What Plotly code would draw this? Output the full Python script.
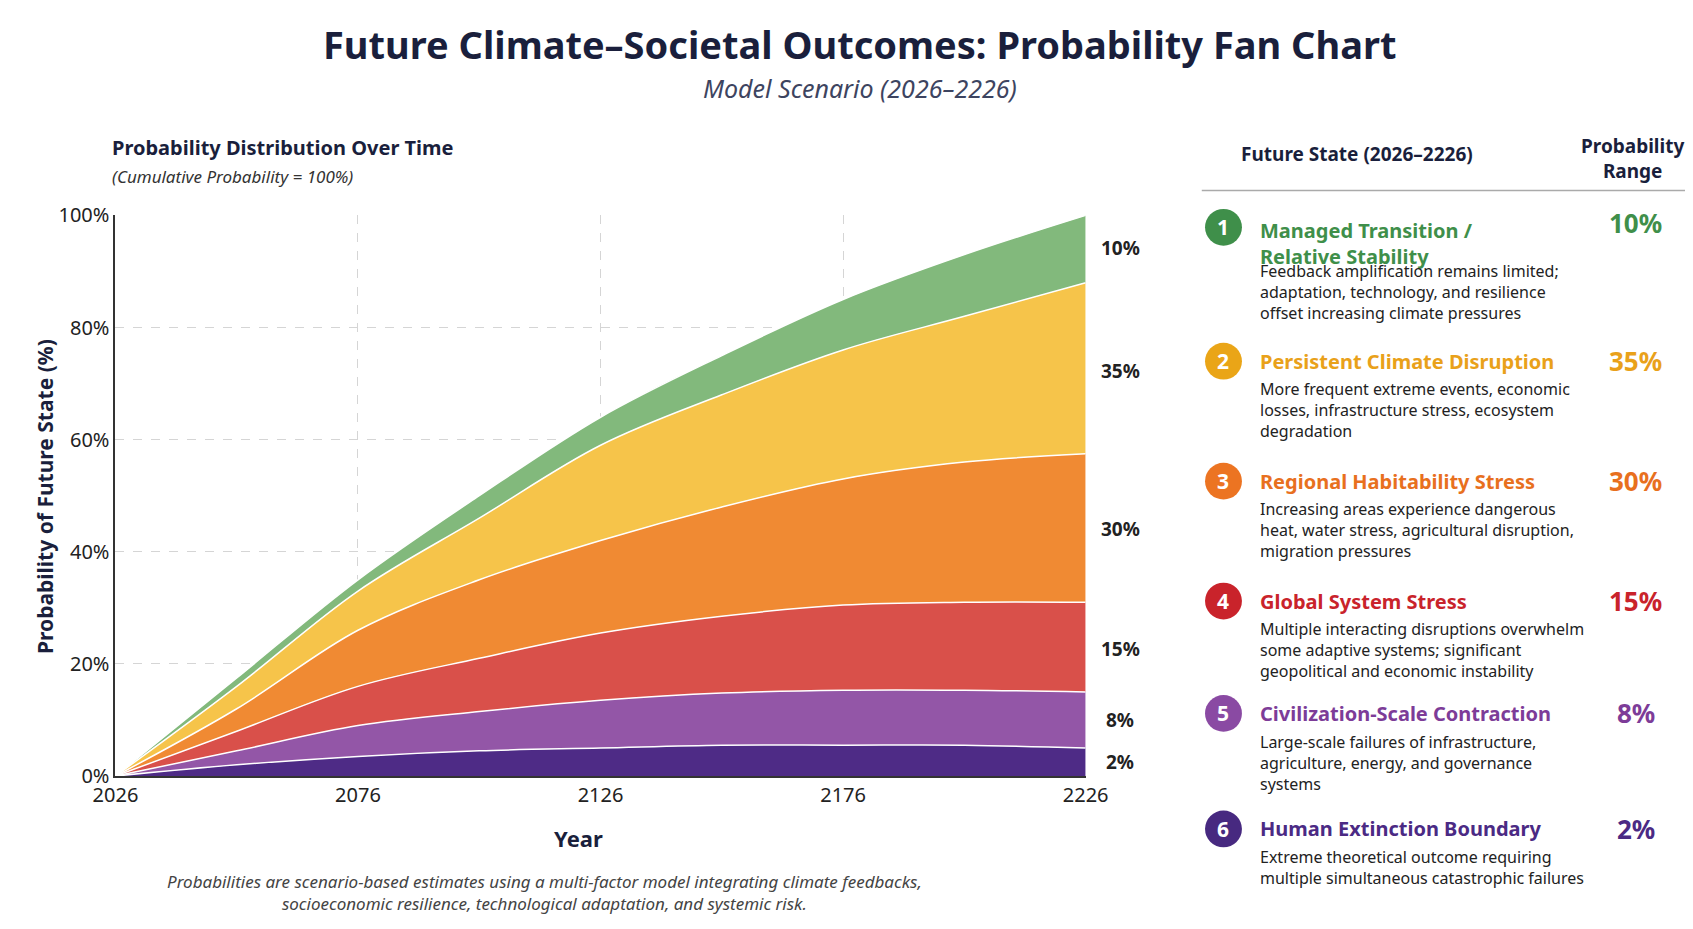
import plotly.graph_objects as go

# ---- data -------------------------------------------------------------
years = [2026, 2051, 2076, 2101, 2126, 2151, 2176, 2201, 2226]

# cumulative upper boundary (%) of each stacked state, bottom to top
extinction_top = [0, 2, 3.5, 4.5, 5, 5.5, 5.5, 5.5, 5]
contraction_top = [0, 4.5, 9, 11.5, 13.5, 14.8, 15.3, 15.3, 15]
global_top = [0, 8, 16, 21, 25.5, 28.5, 30.5, 31, 31]
regional_top = [0, 12, 26, 35, 42, 48, 53, 56, 57.5]
disruption_top = [0, 16, 33, 46, 59, 68, 76, 82, 88]
managed_top = [0, 17.5, 35, 50, 64, 75, 85, 93, 100]

state_names = ["Managed Transition /<br>Relative Stability", "Persistent Climate Disruption",
               "Regional Habitability Stress", "Global System Stress",
               "Civilization-Scale Contraction", "Human Extinction Boundary"]
state_probs = ["10%", "35%", "30%", "15%", "8%", "2%"]
state_desc = [
    "Feedback amplification remains limited;<br>adaptation, technology, and resilience<br>offset increasing climate pressures",
    "More frequent extreme events, economic<br>losses, infrastructure stress, ecosystem<br>degradation",
    "Increasing areas experience dangerous<br>heat, water stress, agricultural disruption,<br>migration pressures",
    "Multiple interacting disruptions overwhelm<br>some adaptive systems; significant<br>geopolitical and economic instability",
    "Large-scale failures of infrastructure,<br>agriculture, energy, and governance<br>systems",
    "Extreme theoretical outcome requiring<br>multiple simultaneous catastrophic failures",
]
fill_colors = ["#82b97c", "#f6c44a", "#f08a33", "#d9504a", "#9356a7", "#4e2b86"]
text_colors = ["#3f8f4a", "#e9a11a", "#e8701e", "#c9232b", "#7d3c98", "#4b2a84"]
circle_colors = ["#3f8f4a", "#eaa517", "#ec7422", "#c9232b", "#8a4aa3", "#472980"]

# ---- figure -----------------------------------------------------------
def px(x):
    return x / 1560

def py(y):
    return 1 - y / 860

FONT = "Noto Sans"
DARK = "#1a1f3c"

fig = go.Figure()
tops = [extinction_top, contraction_top, global_top, regional_top, disruption_top, managed_top]
cols = fill_colors[::-1]
for i, top in enumerate(tops):
    fig.add_trace(go.Scatter(
        x=years, y=top, mode="lines",
        line=dict(color="white", width=1.5, shape="spline"),
        fill="tozeroy" if i == 0 else "tonexty",
        fillcolor=cols[i], hoverinfo="skip", showlegend=False,
    ))

fig.update_layout(
    width=1693, height=929, margin=dict(l=0, r=0, t=0, b=0),
    paper_bgcolor="white", plot_bgcolor="white", font=dict(family=FONT, color=DARK),
    xaxis=dict(domain=[px(99), px(993)], range=[2026, 2226], tickvals=[2026, 2076, 2126, 2176, 2226],
               showgrid=True, gridcolor="#d5d5d5", griddash="dash", zeroline=False, automargin=False,
               showline=True, linecolor="#333", linewidth=2, tickfont=dict(size=20, color="#222")),
    yaxis=dict(domain=[py(711), py(192)], range=[0, 100], tickvals=[0, 20, 40, 60, 80, 100],
               ticktext=["0%", "20%", "40%", "60%", "80%", "100%"], automargin=False,
               showgrid=True, gridcolor="#d5d5d5", griddash="dash", zeroline=False,
               showline=True, linecolor="#333", linewidth=2, tickfont=dict(size=20, color="#222")),
)

def note(x, y, text, size, color=DARK, xanchor="left", yanchor="middle", align="left"):
    fig.add_annotation(x=px(x), y=py(y), xref="paper", yref="paper", text=text, showarrow=False,
                       font=dict(size=size, color=color, family=FONT), xanchor=xanchor,
                       yanchor=yanchor, align=align)

# end labels on the right of the fan
end_label_y = [222, 336, 482, 593, 659, 698]
for lab, yy in zip(state_probs, end_label_y):
    note(1025, yy, f"<b>{lab}</b>", 19, color="#222", xanchor="center")

note(785, 33, "<b>Future Climate–Societal Outcomes: Probability Fan Chart</b>", 38, xanchor="center")
note(785, 74, "<i>Model Scenario (2026–2226)</i>", 25, color="#3d4460", xanchor="center")
note(94, 129, "<b>Probability Distribution Over Time</b>", 20)
note(94, 156, "<i>(Cumulative Probability = 100%)</i>", 17, color="#333")
note(526, 768, "<b>Year</b>", 22, xanchor="center")
fig.add_annotation(x=px(20), y=py(452), xref="paper", yref="paper", text="<b>Probability of Future State (%)</b>",
                   textangle=-90, showarrow=False, font=dict(size=21, color=DARK, family=FONT))
note(494, 819, "<i>Probabilities are scenario-based estimates using a multi-factor model integrating climate feedbacks,<br>"
     "socioeconomic resilience, technological adaptation, and systemic risk.</i>", 17, color="#444",
     xanchor="center", align="center")

# right panel
note(1243, 135, "<b>Future State (2026–2226)</b>", 19, xanchor="center")
note(1497, 139, "<b>Probability<br>Range</b>", 19, xanchor="center", align="center")
fig.add_shape(type="line", xref="paper", yref="paper", x0=px(1100), x1=px(1548), y0=py(169), y1=py(169),
              line=dict(color="#aaa", width=1.5))

title_y = [203, 327, 438, 549, 653, 760]
for i in range(6):
    ty = title_y[i]
    r = 17
    fig.add_shape(type="circle", xref="paper", yref="paper", x0=px(1120 - r), x1=px(1120 + r),
                  y0=py(ty + r), y1=py(ty - r), fillcolor=circle_colors[i], line=dict(width=0))
    note(1120, ty, f"<b>{i + 1}</b>", 21, color="white", xanchor="center")
    if i == 0:
        note(1152, 192, f"<b>{state_names[i]}</b>", 20, color=text_colors[i], yanchor="top")
        desc_top = 231
    else:
        note(1152, ty, f"<b>{state_names[i]}</b>", 20, color=text_colors[i])
        desc_top = ty + 14
    note(1152, desc_top, state_desc[i], 16, color="#222", yanchor="top")
    note(1500, ty - 4 if i == 0 else ty, f"<b>{state_probs[i]}</b>", 26, color=text_colors[i], xanchor="center")

fig.write_html("out.html")
